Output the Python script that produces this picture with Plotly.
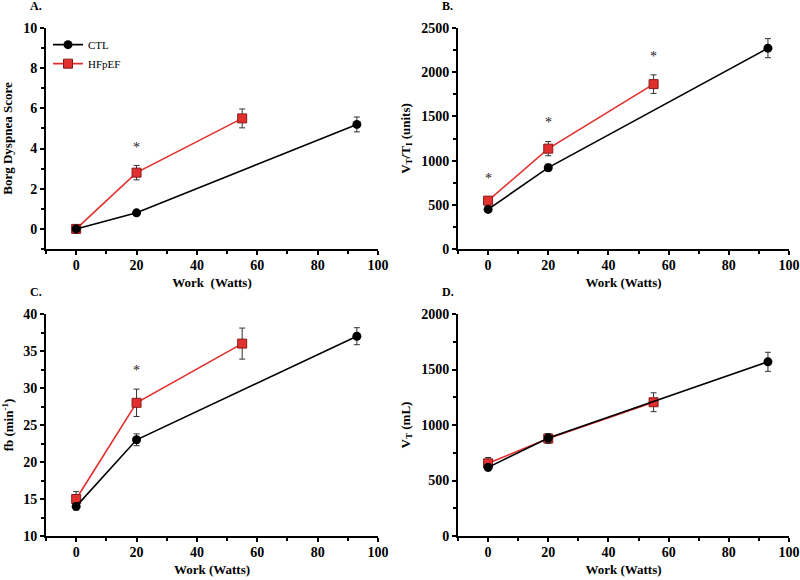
import plotly.graph_objects as go

# ---- data ----
ctl_x = [0, 20, 93]
hf_x = [0, 20, 55]

borg_ctl = [0.0, 0.8, 5.2]
borg_ctl_err = [0.05, 0.08, 0.37]
borg_hf = [0.0, 2.8, 5.5]
borg_hf_err = [0.05, 0.36, 0.47]
borg_star_x = [20]
borg_star_y = [4.05]

vtti_ctl = [448, 920, 2272]
vtti_ctl_err = [25, 40, 108]
vtti_hf = [547, 1135, 1865]
vtti_hf_err = [30, 80, 105]
vtti_star_x = [0, 20, 55]
vtti_star_y = [800, 1430, 2175]

fb_ctl = [14.0, 23.0, 37.0]
fb_ctl_err = [0.5, 0.8, 1.15]
fb_hf = [15.0, 28.0, 36.0]
fb_hf_err = [1.0, 1.85, 2.1]
fb_star_x = [20]
fb_star_y = [32.4]

vt_ctl = [618, 882, 1569]
vt_ctl_err = [30, 40, 86]
vt_hf = [655, 878, 1205]
vt_hf_err = [52, 45, 85]

FONT = "Liberation Serif"
RED = "#e0312f"

fig = go.Figure()

panels = [
    ("x", "y", borg_ctl, borg_ctl_err, borg_hf, borg_hf_err, borg_star_x, borg_star_y, True),
    ("x2", "y2", vtti_ctl, vtti_ctl_err, vtti_hf, vtti_hf_err, vtti_star_x, vtti_star_y, False),
    ("x3", "y3", fb_ctl, fb_ctl_err, fb_hf, fb_hf_err, fb_star_x, fb_star_y, False),
    ("x4", "y4", vt_ctl, vt_ctl_err, vt_hf, vt_hf_err, [], [], False),
]

for xa, ya, cy, ce, hy, he, sx, sy, show in panels:
    fig.add_trace(go.Scatter(
        x=hf_x, y=hy, xaxis=xa, yaxis=ya, name="HFpEF", showlegend=show,
        mode="lines+markers",
        line=dict(color=RED, width=1.6),
        marker=dict(symbol="square", size=9, color=RED, line=dict(color="#8a1a1a", width=1)),
        error_y=dict(type="data", array=he, color="#333333", thickness=1, width=3),
    ))
    fig.add_trace(go.Scatter(
        x=ctl_x, y=cy, xaxis=xa, yaxis=ya, name="CTL", showlegend=show,
        mode="lines+markers",
        line=dict(color="black", width=1.6),
        marker=dict(symbol="circle", size=9, color="black"),
        error_y=dict(type="data", array=ce, color="#333333", thickness=1, width=3),
    ))
    for x0, y0 in zip(sx, sy):
        fig.add_annotation(x=x0, y=y0, xref=xa, yref=ya, text="*", showarrow=False,
                           font=dict(family=FONT, size=14, color="#222"))

W, H = 800, 580
def dom(a, b, total):
    return [a / total, b / total]
def ydom(top, bottom):
    return [1 - bottom / H, 1 - top / H]

axis_common = dict(
    showline=True, linecolor="black", linewidth=2, ticks="outside", ticklen=4,
    tickwidth=2, tickcolor="black", showgrid=False, zeroline=False, automargin=False,
    tickfont=dict(family=FONT, size=14, color="black", weight="bold"),
    title_font=dict(family=FONT, size=13, color="black", weight="bold"),
)

def xaxis(domain, anchor, title):
    d = dict(axis_common)
    d.update(domain=domain, anchor=anchor, range=[-10, 100], tickvals=[0, 20, 40, 60, 80, 100],
             ticklabelstandoff=-2,
             minor=dict(ticks="outside", ticklen=3, tickwidth=1.5, tickcolor="black", dtick=10, tick0=0),
             title=dict(text=title, standoff=6))
    return d

def yaxis(domain, anchor, rng, dtick, minor, title, standoff):
    d = dict(axis_common)
    d.update(domain=domain, anchor=anchor, range=rng, dtick=dtick, tick0=0,
             minor=dict(ticks="outside", ticklen=3, tickwidth=1.5, tickcolor="black", dtick=minor, tick0=0),
             title=dict(text=title, standoff=standoff))
    return d

xL = dom(46, 378, W)
xR = dom(458, 789, W)
yT = ydom(28, 249)
yB = ydom(314, 536)

fig.update_layout(
    width=W, height=H, margin=dict(l=0, r=0, t=0, b=0),
    paper_bgcolor="white", plot_bgcolor="white",
    xaxis=xaxis(xL, "y", "Work&nbsp;&nbsp;(Watts)"),
    yaxis=yaxis(yT, "x", [-1, 10], 2, 1, "Borg Dyspnea Score", 8),
    xaxis2=xaxis(xR, "y2", "Work (Watts)"),
    yaxis2=yaxis(yT, "x2", [0, 2500], 500, 250, "V<sub>T</sub>/T<sub>I</sub> (units)", 8),
    xaxis3=xaxis(xL, "y3", "Work (Watts)"),
    yaxis3=yaxis(yB, "x3", [10, 40], 5, 2.5, "fb (min<sup>-1</sup>)", 8),
    xaxis4=xaxis(xR, "y4", "Work (Watts)"),
    yaxis4=yaxis(yB, "x4", [0, 2000], 500, 250, "V<sub>T</sub> (mL)", 8),
    showlegend=True,
    legend=dict(x=0.06, y=0.948, xanchor="left", yanchor="top", bgcolor="rgba(0,0,0,0)",
                font=dict(family=FONT, size=11, color="black"), traceorder="reversed",
                itemwidth=30, tracegroupgap=0),
)

for txt, px, py in [("A.", 28, 6), ("B.", 440, 6), ("C.", 28, 292), ("D.", 440, 292)]:
    fig.add_annotation(x=px / W, y=1 - py / H, xref="paper", yref="paper", text=txt,
                       showarrow=False, xanchor="left", yanchor="middle",
                       font=dict(family=FONT, size=12, color="black", weight="bold"))

fig.write_html("out.html", config={"displayModeBar": False},
               post_script="document.body.style.margin='0px';")
